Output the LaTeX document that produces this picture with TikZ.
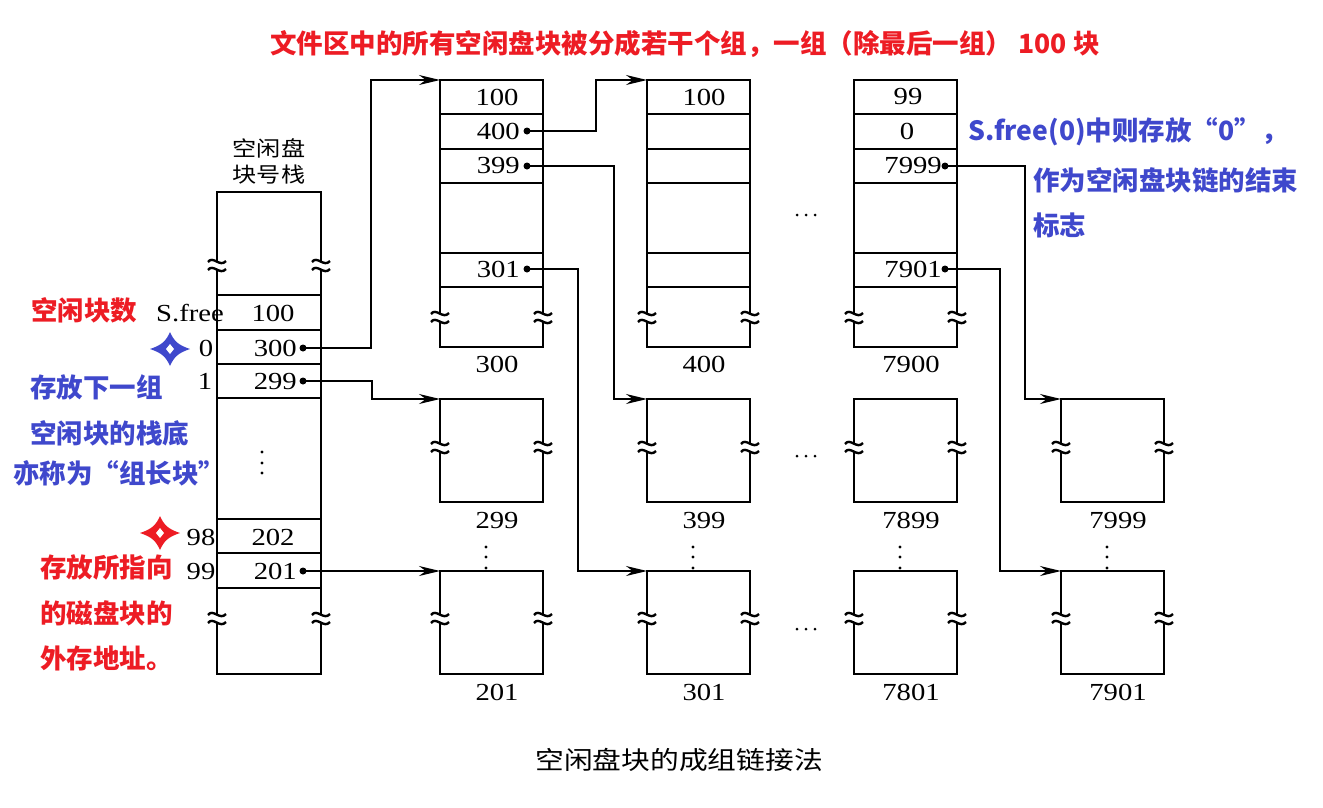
\documentclass[tikz,border=0pt]{standalone}
\usepackage{fontspec}
\setmainfont{Liberation Serif}
\newfontfamily\cjk{Noto Sans CJK SC}
\usetikzlibrary{arrows.meta}
\definecolor{annred}{RGB}{237,28,36}
\definecolor{annblue}{RGB}{63,72,204}
\tikzset{
  box/.style={line width=2.7pt},
  link/.style={line width=1.5pt, -{Stealth[length=21pt,width=10pt]}},
  num/.style={font=\fontsize{24.5}{27}\selectfont, xscale=1.17, inner sep=0pt},
  hz/.style={font=\cjk\fontsize{21}{24}\selectfont, xscale=1.15, inner sep=0pt},
  captxt/.style={font=\cjk\fontsize{25}{28}\selectfont, xscale=1.15, inner sep=0pt},
  redtxt/.style={font=\cjk\bfseries\fontsize{26.5}{30}\selectfont, text=annred, inner sep=0pt},
  bluetxt/.style={font=\cjk\bfseries\fontsize{26.5}{30}\selectfont, text=annblue, inner sep=0pt},
  pt/.style={circle, fill=black, inner sep=0pt, minimum size=7pt},
  brk/.pic={
    \fill[white] (-4,-3.5) rectangle (4,3.5);
    \draw[line width=2.4pt] (-9,-3) .. controls (-4,-10) and (3,3) .. (9,-4);
    \draw[line width=2.4pt] (-9,5) .. controls (-4,-2) and (3,11) .. (9,4);
  },
  star4/.pic={
    \fill (-20,0) .. controls (-8,-4) and (-4,-8) .. (0,-17)
                  .. controls (4,-8) and (8,-4) .. (20,0)
                  .. controls (8,4) and (4,8) .. (0,17)
                  .. controls (-4,8) and (-8,4) .. (-20,0) -- cycle;
    \fill[white] (-4,0) -- (0,-5) -- (4,0) -- (0,5) -- cycle;
  }
}
\begin{document}
\begin{tikzpicture}[x=1pt,y=-1pt]
\fill[white] (0,0) rectangle (1323,807);
\useasboundingbox (0,0) rectangle (1323,807);

% ---------- free block number stack ----------
\draw[box] (217,192) rectangle (321,674);
\foreach \yy in {295,330,364,398,519,553,588}
  \draw[box] (217,\yy) -- (321,\yy);
\foreach \yy in {265,618}{
  \pic at (217,\yy) {brk};
  \pic at (321,\yy) {brk};
}
\node[hz] (hdrA) at (269,148) {空闲盘};
\node[hz] (hdrB) at (269,175) {块号栈};

\node[num] (sfreelbl) at (190,313) {S.free};
\node[num] (sfree) at (273,313) {100};
\node[num] (i0) at (206,348) {0};
\node[num] (i1) at (205,381) {1};
\node[num] (i98) at (201,537) {98};
\node[num] (i99) at (201,571) {99};
\node[num, anchor=east] (v300) at (297,348) {300};
\node[num, anchor=east] (v299) at (297,381) {299};
\node[num] (v202) at (273,537) {202};
\node[num, anchor=east] (v201) at (297,571) {201};
\node[pt] (s300) at (303,348) {};
\node[pt] (s299) at (303,381) {};
\node[pt] (s201) at (303,571) {};
\foreach \yy in {452,463,473}
  \fill (262,\yy) circle (1.6);

% ---------- top row: group leader blocks ----------
\foreach \xx in {440,647,854}{
  \draw[box] (\xx,80) rectangle ++(103,267);
  \foreach \yy in {114,149,183,253,287}
    \draw[box] (\xx,\yy) -- ++(103,0);
  \pic at (\xx,317) {brk};
  \pic at (\xx+103,317) {brk};
}
\node[num] (a100) at (497,97) {100};
\node[num, anchor=east] (a400) at (520,131) {400};
\node[num, anchor=east] (a399) at (520,166) {399};
\node[num, anchor=east] (a301) at (520,269) {301};
\node[pt] (d400) at (527,131) {};
\node[pt] (d399) at (527,166) {};
\node[pt] (d301) at (527,269) {};
\node[num] (b100) at (704,97) {100};
\node[num] (c99) at (908,97) {99};
\node[num] (c0) at (907,131) {0};
\node[num, anchor=east] (c7999) at (942,166) {7999};
\node[num, anchor=east] (c7901) at (942,269) {7901};
\node[pt] (d7999) at (945,166) {};
\node[pt] (d7901) at (945,269) {};
\node[num] (L300) at (497,364) {300};
\node[num] (L400) at (704,364) {400};
\node[num] (L7900) at (911,364) {7900};

% ---------- lower rows: ordinary free blocks ----------
\foreach \xx in {440,647,854,1061}{
  \draw[box] (\xx,399) rectangle ++(103,103);
  \pic at (\xx,447) {brk};
  \pic at (\xx+103,447) {brk};
  \draw[box] (\xx,571) rectangle ++(103,103);
  \pic at (\xx,618) {brk};
  \pic at (\xx+103,618) {brk};
  \foreach \yy in {547,557,568}
    \fill (\xx+46,\yy) circle (1.6);
}
\node[num] (L299) at (497,520) {299};
\node[num] (L399) at (704,520) {399};
\node[num] (L7899) at (911,520) {7899};
\node[num] (L7999) at (1118,520) {7999};
\node[num] (L201) at (497,692) {201};
\node[num] (L301) at (704,692) {301};
\node[num] (L7801) at (911,692) {7801};
\node[num] (L7901) at (1118,692) {7901};

% horizontal ellipses between columns
\foreach \yy in {215,456,629}
  \foreach \xx in {797,806,815}
    \fill (\xx,\yy) circle (1.5);

% ---------- block corners that links point to ----------
\coordinate (t300) at (440,80);
\coordinate (t400) at (647,80);
\coordinate (t299) at (440,399);
\coordinate (t201) at (440,571);
\coordinate (t399) at (647,399);
\coordinate (t301) at (647,571);
\coordinate (t7999) at (1061,399);
\coordinate (t7901) at (1061,571);

% ---------- links ----------
\draw[link] (s300.center) -- ++(68,0) |- (t300);
\draw[link] (s299.center) -- ++(69,0) |- (t299);
\draw[link] (s201.center) -- (t201);
\draw[link] (d400.center) -- ++(69,0) |- (t400);
\draw[link] (d399.center) -- ++(87,0) |- (t399);
\draw[link] (d301.center) -- ++(51,0) |- (t301);
\draw[link] (d7999.center) -- ++(80,0) |- (t7999);
\draw[link] (d7901.center) -- ++(55,0) |- (t7901);

% ---------- markers ----------
\begin{scope}[shift={(170,349)}, annblue]
  \pic {star4};
\end{scope}
\begin{scope}[shift={(160,533)}, yscale=0.82, annred]
  \pic {star4};
\end{scope}

% ---------- notes ----------
\node[redtxt] (title) at (685,44) {文件区中的所有空闲盘块被分成若干个组，一组（除最后一组） 100 块};
\node[redtxt, anchor=west] (nA) at (31,310) {空闲块数};
\node[bluetxt, anchor=west] (nB1) at (30,387) {存放下一组};
\node[bluetxt, anchor=west] (nB2) at (30,433) {空闲块的栈底};
\node[bluetxt, anchor=west] (nB3) at (13,473) {亦称为“组长块”};
\node[redtxt, anchor=west] (nC1) at (40,567) {存放所指向};
\node[redtxt, anchor=west] (nC2) at (40,613) {的磁盘块的};
\node[redtxt, anchor=west] (nC3) at (40,658) {外存地址。};
\node[bluetxt, anchor=west] (nD1) at (968,132) {S.free(0)中则存放“0”，};
\node[bluetxt, anchor=west] (nD2) at (1033,180) {作为空闲盘块链的结束};
\node[bluetxt, anchor=west] (nD3) at (1033,225) {标志};

\node[captxt] (caption) at (679,760) {空闲盘块的成组链接法};
\end{tikzpicture}
\end{document}
